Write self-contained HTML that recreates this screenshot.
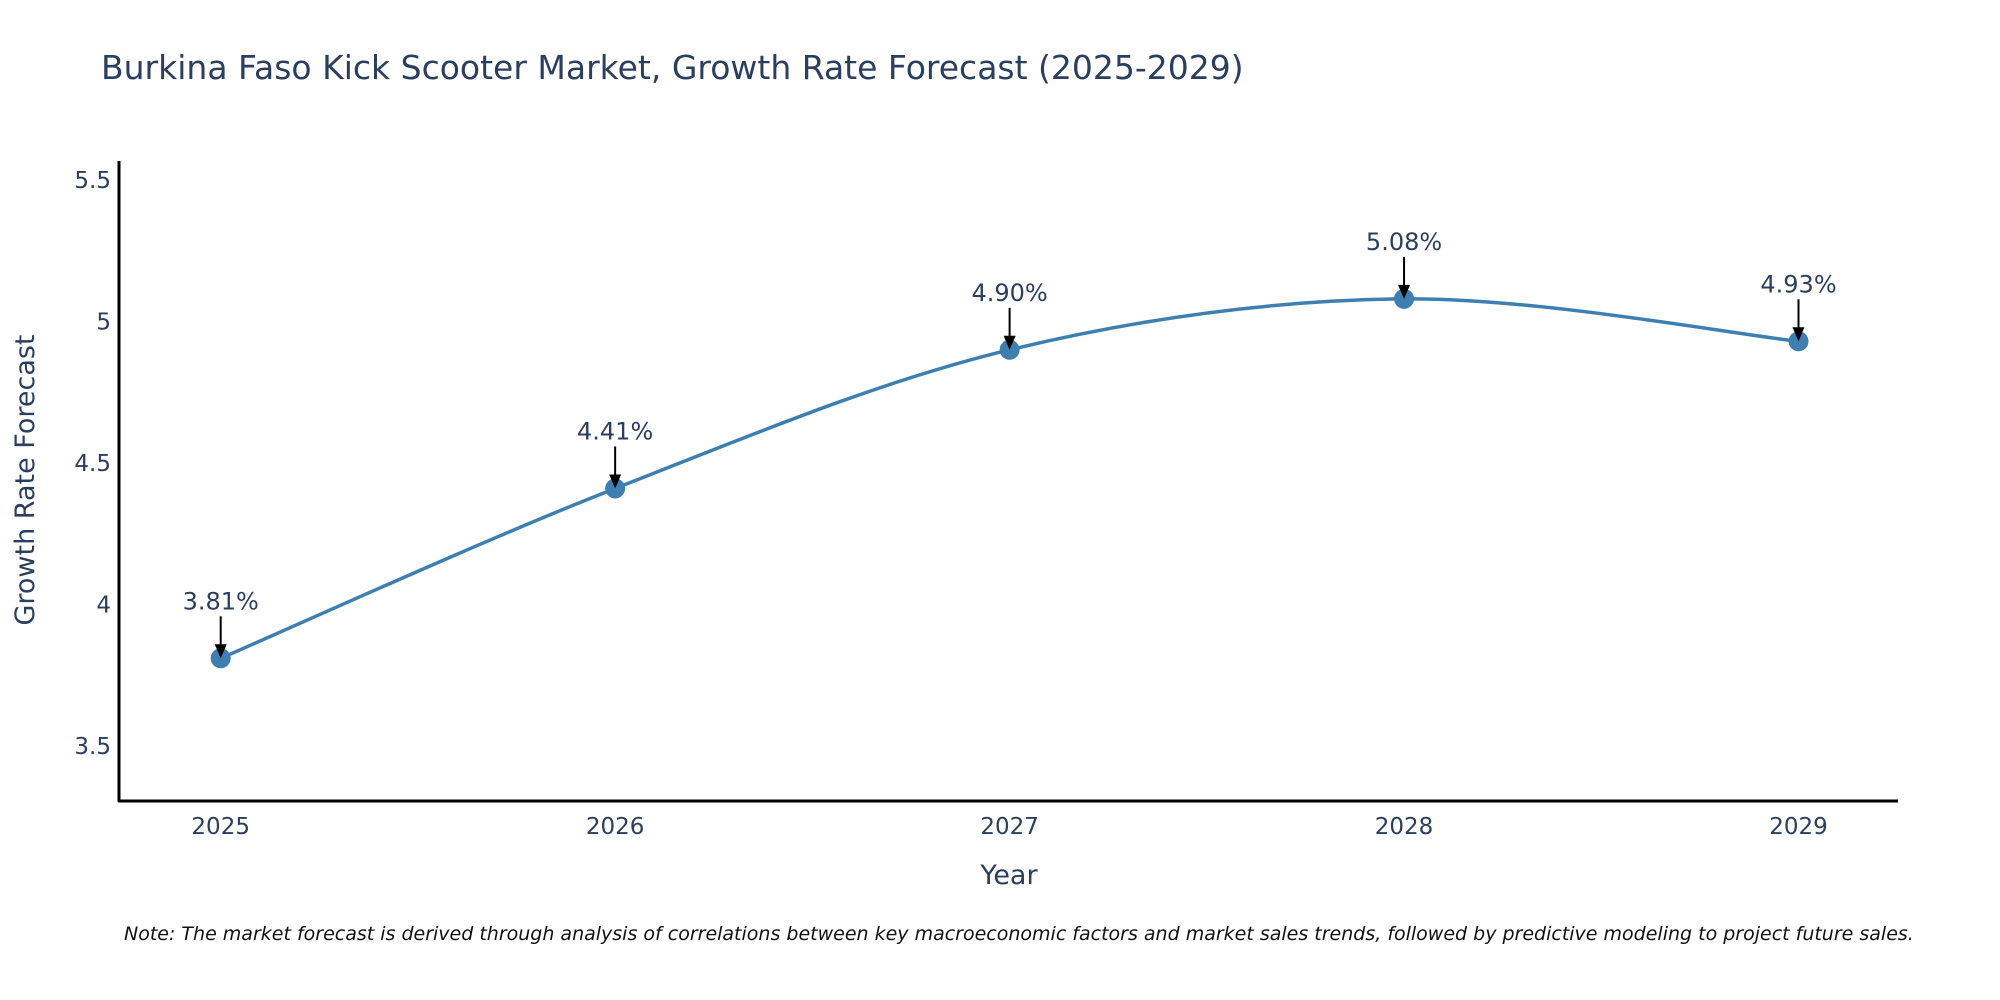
<!DOCTYPE html>
<html><head><meta charset="utf-8"><style>
body{margin:0;background:#fff;}
svg{display:block;font-family:"DejaVu Sans","Liberation Sans",sans-serif;}
</style></head><body>
<svg width="2000" height="1000">
<text x="101" y="79" font-size="33" fill="#2a3f5f">Burkina Faso Kick Scooter Market, Growth Rate Forecast (2025-2029)</text>
<g id="yticks"></g><g id="xticks"></g>
<line x1="119" y1="161" x2="119" y2="802" stroke="#000" stroke-width="3"/>
<line x1="118" y1="801" x2="1898" y2="801" stroke="#000" stroke-width="3"/>
<text x="34" y="480" font-size="27" fill="#2a3f5f" text-anchor="middle" transform="rotate(-90 34 480)">Growth Rate Forecast</text>
<text x="1009" y="884" font-size="27" fill="#2a3f5f" text-anchor="middle">Year</text>
<path id="line" fill="none" stroke="#3d7fb0" stroke-width="3.5"/>
<g id="marks"></g>
<text x="124" y="940" font-size="19" font-style="italic" fill="#111">Note: The market forecast is derived through analysis of correlations between key macroeconomic factors and market sales trends, followed by predictive modeling to project future sales.</text>
</svg>
<script>
const years=[2025,2026,2027,2028,2029];
const values=[3.81,4.41,4.90,5.08,4.93];
const labels=["3.81%","4.41%","4.90%","5.08%","4.93%"];
const yTicks=[3.5,4,4.5,5,5.5];
const yTickLabels=["3.5","4","4.5","5","5.5"];
const NS="http://www.w3.org/2000/svg";
const xs=y=>220.7+(y-2025)*394.45;
const ys=v=>746-(v-3.5)*283;
function mk(t,a,p){const e=document.createElementNS(NS,t);for(const k in a)e.setAttribute(k,a[k]);p.appendChild(e);return e;}
const yt=document.getElementById('yticks');
yTicks.forEach((v,i)=>{const t=mk('text',{x:111,y:ys(v)+8,'font-size':23,fill:'#2a3f5f','text-anchor':'end'},yt);t.textContent=yTickLabels[i];

});
const xt=document.getElementById('xticks');
years.forEach(y=>{const t=mk('text',{x:xs(y),y:834,'font-size':23,fill:'#2a3f5f','text-anchor':'middle'},xt);t.textContent=y;

});
const P=years.map((y,i)=>[xs(y),ys(values[i])]);
let d=`M${P[0][0]},${P[0][1]}`;
for(let i=0;i<P.length-1;i++){const p0=P[Math.max(i-1,0)],p1=P[i],p2=P[i+1],p3=P[Math.min(i+2,P.length-1)];const s=1/6;
d+=` C${p1[0]+(p2[0]-p0[0])*s},${p1[1]+(p2[1]-p0[1])*s} ${p2[0]-(p3[0]-p1[0])*s},${p2[1]-(p3[1]-p1[1])*s} ${p2[0]},${p2[1]}`;}
document.getElementById('line').setAttribute('d',d);
const g=document.getElementById('marks');
P.forEach((p,i)=>{
const c=mk('circle',{cx:p[0],cy:p[1],r:10,fill:'#3d7fb0'},g);


const l=mk('line',{x1:p[0],y1:p[1]-42,x2:p[0],y2:p[1]-12,stroke:'#000','stroke-width':2},g);


const h=mk('polygon',{points:`${p[0]-6},${p[1]-14} ${p[0]+6},${p[1]-14} ${p[0]},${p[1]}`,fill:'#000'},g);


const t=mk('text',{x:p[0],y:p[1]-49,'font-size':24,fill:'#2a3f5f','text-anchor':'middle'},g);t.textContent=labels[i];

});
</script>
</body></html>
